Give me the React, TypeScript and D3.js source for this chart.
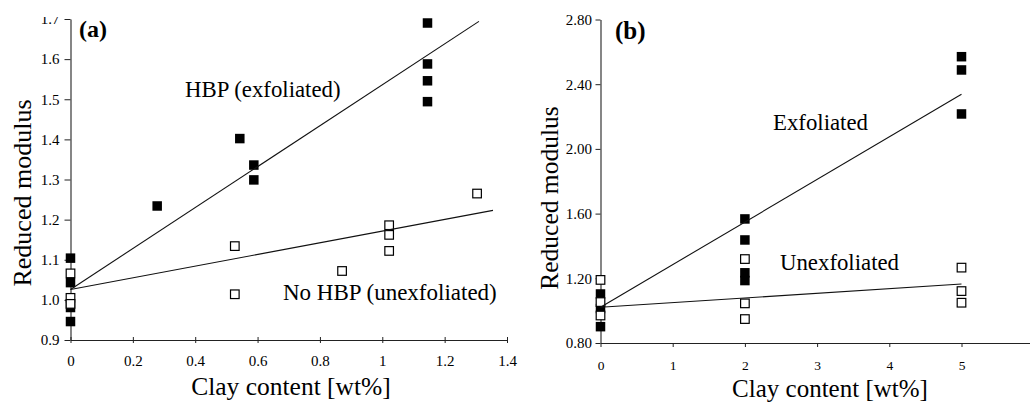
import React, { useEffect, useRef } from "react";
import * as d3 from "d3";

const W = 1030;
const H = 403;
const FONT = '"Liberation Serif", "Times New Roman", Times, serif';

// ---------- Panel (a) ----------
const aTicksX = [0, 0.2, 0.4, 0.6, 0.8, 1, 1.2, 1.4];
const aTickLabelsX = ["0", "0.2", "0.4", "0.6", "0.8", "1", "1.2", "1.4"];
const aTicksY = [0.9, 1.0, 1.1, 1.2, 1.3, 1.4, 1.5, 1.6, 1.7];
const aTickLabelsY = ["0.9", "1.0", "1.1", "1.2", "1.3", "1.4", "1.5", "1.6", "1.7"];

const aHbpX = [0, 0, 0, 0, 0.278, 0.543, 0.588, 0.588, 1.145, 1.145, 1.145, 1.145];
const aHbpY = [1.104, 1.043, 0.981, 0.946, 1.234, 1.402, 1.336, 1.299, 1.69, 1.588, 1.546, 1.494];
const aNoHbpX = [0, 0, 0, 0.527, 0.527, 0.871, 1.022, 1.022, 1.022, 1.304];
const aNoHbpY = [1.066, 1.005, 0.99, 1.134, 1.014, 1.072, 1.186, 1.162, 1.122, 1.265];

const aHbpFitX = [0, 1.31];
const aHbpFitY = [1.026, 1.694];
const aNoHbpFitX = [0, 1.355];
const aNoHbpFitY = [1.026, 1.223];

// ---------- Panel (b) ----------
const bTicksX = [0, 1, 2, 3, 4, 5];
const bTickLabelsX = ["0", "1", "2", "3", "4", "5"];
const bTicksY = [0.8, 1.2, 1.6, 2.0, 2.4, 2.8];
const bTickLabelsY = ["0.80", "1.20", "1.60", "2.00", "2.40", "2.80"];

const bExfX = [0, 0, 0, 2, 2, 2, 2, 5, 5, 5];
const bExfY = [1.103, 1.013, 0.901, 1.567, 1.437, 1.234, 1.186, 2.57, 2.488, 2.216];
const bUnexfX = [0, 0, 0, 2, 2, 2, 5, 5, 5];
const bUnexfY = [1.19, 1.053, 0.97, 1.319, 1.045, 0.948, 1.266, 1.121, 1.049];

const bExfFitX = [0, 5];
const bExfFitY = [1.021, 2.338];
const bUnexfFitX = [0, 5];
const bUnexfFitY = [1.021, 1.165];

// scales
const ax = d3.scaleLinear().domain([0, 1.4]).range([70.5, 507]);
const ay = d3.scaleLinear().domain([0.9, 1.7]).range([340, 19]);
const bx = d3.scaleLinear().domain([0, 6]).range([600.5, 1033.7]);
const by = d3.scaleLinear().domain([0.8, 2.8]).range([343, 19.5]);

const line = (sx: any, sy: any, xs: number[], ys: number[]) =>
  d3
    .line<number>()
    .x((i) => sx(xs[i]))
    .y((i) => sy(ys[i]))(xs.map((_, i) => i)) || "";

const FILLED = 9.5;
const OPEN = 8.6;

function Squares({ sx, sy, xs, ys, filled }: any) {
  return (
    <g>
      {xs.map((x: number, i: number) => {
        const s = filled ? FILLED : OPEN;
        return (
          <rect
            key={i}
            x={sx(x) - s / 2}
            y={sy(ys[i]) - s / 2}
            width={s}
            height={s}
            fill={filled ? "#000" : "#fff"}
            stroke="#000"
            strokeWidth={filled ? 0 : 1.2}
          />
        );
      })}
    </g>
  );
}

export default function App() {
  const aX = useRef<SVGGElement>(null);
  const aY = useRef<SVGGElement>(null);
  const bX = useRef<SVGGElement>(null);
  const bY = useRef<SVGGElement>(null);

  useEffect(() => {
    const style = (g: any, fs: number) => {
      g.selectAll("path.domain").attr("stroke", "#222").attr("stroke-width", 1.1);
      g.selectAll(".tick line").attr("stroke", "#222").attr("stroke-width", 1);
      g.selectAll(".tick text")
        .attr("fill", "#000")
        .style("font-family", FONT)
        .style("font-size", fs + "px");
      g.attr("font-family", null).attr("font-size", null);
    };

    const gax = d3.select(aX.current!);
    gax.call(
      d3
        .axisBottom(ax)
        .tickValues(aTicksX)
        .tickFormat((_, i) => aTickLabelsX[i])
        .tickSizeInner(4)
        .tickSizeOuter(0)
    );
    style(gax, 15);
    gax.selectAll(".tick line").attr("y1", -3).attr("y2", 3);
    gax.selectAll(".tick text").attr("y", 15).attr("dy", "0.71em");

    const gay = d3.select(aY.current!);
    gay.call(
      d3
        .axisLeft(ay)
        .tickValues(aTicksY)
        .tickFormat((_, i) => aTickLabelsY[i])
        .tickSizeInner(6)
        .tickSizeOuter(0)
        .tickPadding(5)
    );
    style(gay, 15);

    const gbx = d3.select(bX.current!);
    gbx.call(
      d3
        .axisBottom(bx)
        .tickValues(bTicksX)
        .tickFormat((_, i) => bTickLabelsX[i])
        .tickSizeInner(4)
        .tickSizeOuter(0)
    );
    style(gbx, 13.5);
    gbx.selectAll(".tick text").attr("y", 17.5).attr("dy", "0.71em");

    const gby = d3.select(bY.current!);
    gby.call(
      d3
        .axisLeft(by)
        .tickValues(bTicksY)
        .tickFormat((_, i) => bTickLabelsY[i])
        .tickSizeInner(5)
        .tickSizeOuter(0)
        .tickPadding(3.5)
    );
    style(gby, 15);
  }, []);

  const txt = { fontFamily: FONT, fill: "#000" } as const;

  return (
    <svg
      width={W}
      height={H}
      viewBox={`0 0 ${W} ${H}`}
      style={{ position: "absolute", left: 0, top: 0, background: "#fff", display: "block" }}
    >
      <defs>
        <clipPath id="clipA">
          <rect x={0} y={17} width={W} height={H} />
        </clipPath>
      </defs>
      <rect x={0} y={0} width={W} height={H} fill="#fff" />

      {/* Panel (a) */}
      <g ref={aX} transform={`translate(0,${ay(0.9)})`} />
      <g clipPath="url(#clipA)">
        <g ref={aY} transform={`translate(${ax(0)},0)`} />
      </g>
      <Squares sx={ax} sy={ay} xs={aHbpX} ys={aHbpY} filled />
      <Squares sx={ax} sy={ay} xs={aNoHbpX} ys={aNoHbpY} filled={false} />
      <path d={line(ax, ay, aHbpFitX, aHbpFitY)} stroke="#111" strokeWidth={1.1} fill="none" />
      <path d={line(ax, ay, aNoHbpFitX, aNoHbpFitY)} stroke="#111" strokeWidth={1.1} fill="none" />
      <text x={79} y={37} style={{ ...txt, fontWeight: "bold", fontSize: 24 }}>(a)</text>
      <text x={185} y={97} style={{ ...txt, fontSize: 22.8 }}>HBP (exfoliated)</text>
      <text x={283} y={300} style={{ ...txt, fontSize: 23 }}>No HBP (unexfoliated)</text>
      <text x={291} y={395} textAnchor="middle" style={{ ...txt, fontSize: 25.5 }}>
        Clay content [wt%]
      </text>
      <text
        transform={`translate(31,193) rotate(-90)`}
        textAnchor="middle"
        style={{ ...txt, fontSize: 26 }}
      >
        Reduced modulus
      </text>

      {/* Panel (b) */}
      <g ref={bX} transform={`translate(0,${by(0.8)})`} />
      <g ref={bY} transform={`translate(${bx(0)},0)`} />
      <Squares sx={bx} sy={by} xs={bExfX} ys={bExfY} filled />
      <Squares sx={bx} sy={by} xs={bUnexfX} ys={bUnexfY} filled={false} />
      <path d={line(bx, by, bExfFitX, bExfFitY)} stroke="#111" strokeWidth={1.1} fill="none" />
      <path d={line(bx, by, bUnexfFitX, bUnexfFitY)} stroke="#111" strokeWidth={1.1} fill="none" />
      <text x={615} y={38.5} style={{ ...txt, fontWeight: "bold", fontSize: 25 }}>(b)</text>
      <text x={773} y={130} style={{ ...txt, fontSize: 22.8 }}>Exfoliated</text>
      <text x={780} y={270} style={{ ...txt, fontSize: 22.8 }}>Unexfoliated</text>
      <text x={830} y={396.5} textAnchor="middle" style={{ ...txt, fontSize: 25 }}>
        Clay content [wt%]
      </text>
      <text
        transform={`translate(558,198) rotate(-90)`}
        textAnchor="middle"
        style={{ ...txt, fontSize: 25.5 }}
      >
        Reduced modulus
      </text>
    </svg>
  );
}
